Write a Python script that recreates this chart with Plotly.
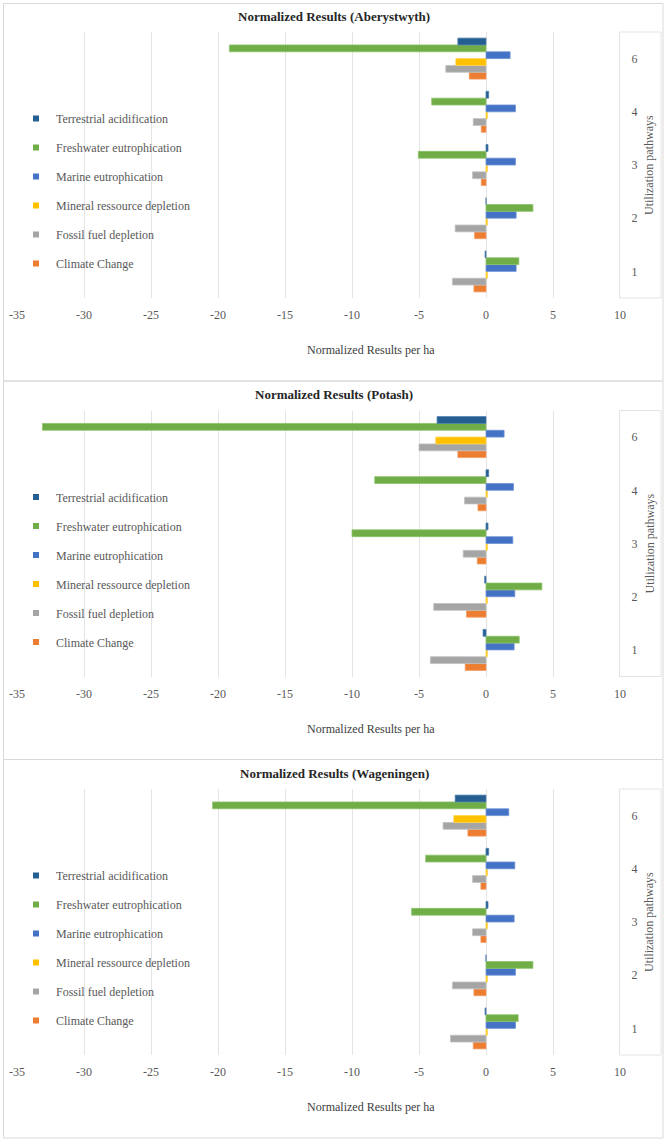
import plotly.graph_objects as go

categories = ["1", "2", "3", "4", "6"]
series_names = ["Terrestrial acidification", "Freshwater eutrophication", "Marine eutrophication",
                "Mineral ressource depletion", "Fossil fuel depletion", "Climate Change"]
panel_titles = ["Normalized Results (Aberystwyth)", "Normalized Results (Potash)",
                "Normalized Results (Wageningen)"]
x_ticks = [-35, -30, -25, -20, -15, -10, -5, 0, 5, 10]

# Aberystwyth (categories 1,2,3,4,6)
aber_ta = [-0.07, 0.0, 0.15, 0.2, -2.1]
aber_fe = [2.45, 3.5, -5.05, -4.05, -19.15]
aber_me = [2.25, 2.25, 2.2, 2.2, 1.8]
aber_mr = [0.1, 0.1, 0.1, 0.1, -2.25]
aber_ff = [-2.5, -2.3, -1.0, -0.95, -3.0]
aber_cc = [-0.9, -0.85, -0.35, -0.35, -1.25]

# Potash
pot_ta = [-0.22, -0.1, 0.15, 0.2, -3.65]
pot_fe = [2.48, 4.17, -10.0, -8.3, -33.1]
pot_me = [2.1, 2.15, 2.0, 2.05, 1.35]
pot_mr = [0.1, 0.1, 0.1, 0.1, -3.75]
pot_ff = [-4.15, -3.9, -1.7, -1.6, -5.0]
pot_cc = [-1.55, -1.45, -0.65, -0.6, -2.1]

# Wageningen
wag_ta = [-0.07, 0.0, 0.15, 0.2, -2.3]
wag_fe = [2.4, 3.5, -5.55, -4.5, -20.4]
wag_me = [2.2, 2.2, 2.1, 2.15, 1.7]
wag_mr = [0.1, 0.1, 0.1, 0.1, -2.4]
wag_ff = [-2.65, -2.5, -1.0, -1.0, -3.2]
wag_cc = [-0.95, -0.9, -0.38, -0.38, -1.35]

panels = [
    [aber_ta, aber_fe, aber_me, aber_mr, aber_ff, aber_cc],
    [pot_ta, pot_fe, pot_me, pot_mr, pot_ff, pot_cc],
    [wag_ta, wag_fe, wag_me, wag_mr, wag_ff, wag_cc],
]

fills = ["#255E91", "#70AD47", "#4472C4", "#FFC000", "#A5A5A5", "#ED7D31"]
edges = ["#4F7FAE", "#8DC26A", "#6F93D6", "#FFD34D", "#C0C0C0", "#F29B62"]

FONT = "Liberation Serif"
W, H = 667, 1140
PANEL_OFF = 378.5
PLOT_TOP, PLOT_BOT = 32, 298
X_L, X_R = 17, 620


def py(px):
    return 1 - px / H


def pxx(px):
    return px / W


fig = go.Figure()
shapes = []
annotations = []
layout_axes = {}

for p, data in enumerate(panels):
    off = p * PANEL_OFF
    sfx = "" if p == 0 else str(p + 1)
    xa, ya = "x" + sfx, "y" + sfx
    leg = "legend" if p == 0 else "legend" + str(p + 1)
    # bars: add bottom-to-top within a group (Climate Change first)
    for i in reversed(range(6)):
        fig.add_trace(go.Bar(
            x=data[i], y=categories, orientation="h", name=series_names[i],
            marker=dict(color=fills[i], line=dict(color=edges[i], width=0.8)),
            xaxis=xa, yaxis=ya, showlegend=False, hoverinfo="x+name",
        ))
    # legend entries
    for i in range(6):
        fig.add_trace(go.Scatter(
            x=[None], y=[None], mode="markers", name=series_names[i],
            marker=dict(symbol="square", size=6, color=fills[i]),
            xaxis=xa, yaxis=ya, legend=leg, legendgroup=f"g{p}_{i}", showlegend=True,
        ))
    top, bot = PLOT_TOP + off, PLOT_BOT + off
    layout_axes["xaxis" + sfx] = dict(
        domain=[pxx(X_L), pxx(X_R)], anchor=ya, range=[-35, 10],
        tickvals=x_ticks, ticktext=[str(v) for v in x_ticks],
        showgrid=True, gridcolor="#E4E4E4", gridwidth=1, zeroline=False, showline=False,
        ticks="outside", ticklen=6, tickcolor="rgba(0,0,0,0)", automargin=False,
        tickfont=dict(family=FONT, size=12, color="#595959"), fixedrange=True,
    )
    layout_axes["yaxis" + sfx] = dict(
        domain=[py(bot), py(top)], anchor=xa, side="right", type="category",
        categoryorder="array", categoryarray=categories,
        showgrid=False, zeroline=False, showline=False, automargin=False,
        ticks="outside", ticklen=8, tickcolor="rgba(0,0,0,0)",
        tickfont=dict(family=FONT, size=12, color="#595959"), fixedrange=True,
    )
    layout_axes[leg] = dict(
        x=pxx(16), xanchor="left", y=py(104 + off), yanchor="top",
        bgcolor="rgba(0,0,0,0)", font=dict(family=FONT, size=12, color="#595959"),
        tracegroupgap=10, itemclick=False, itemdoubleclick=False,
    )
    # panel border
    shapes.append(dict(type="rect", xref="paper", yref="paper",
                       x0=pxx(3.5), x1=pxx(663), y0=py(3.5 + off if p == 0 else 381 + (p - 1) * PANEL_OFF),
                       y1=py(381 + off), line=dict(color="#D9D9D9", width=1), layer="below"))
    # right-side category box
    shapes.append(dict(type="rect", xref="paper", yref="paper",
                       x0=pxx(619.5), x1=pxx(661), y0=py(bot), y1=py(top),
                       line=dict(color="#E3E3E3", width=1), layer="below"))
    annotations.append(dict(text="<b>" + panel_titles[p] + "</b>", xref="paper", yref="paper",
                            x=pxx(334), y=py(16 + off), showarrow=False,
                            xanchor="center", yanchor="middle",
                            font=dict(family=FONT, size=13, color="#262626")))
    annotations.append(dict(text="Normalized Results per ha", xref="paper", yref="paper",
                            x=pxx(371), y=py(350 + off), showarrow=False,
                            xanchor="center", yanchor="middle",
                            font=dict(family=FONT, size=12, color="#404040")))
    annotations.append(dict(text="Utilization pathways", xref="paper", yref="paper",
                            x=pxx(649), y=py(165 + off), showarrow=False, textangle=-90,
                            xanchor="center", yanchor="middle",
                            font=dict(family=FONT, size=12, color="#595959")))

fig.update_layout(
    width=W, height=H, margin=dict(l=0, r=0, t=0, b=0, autoexpand=False),
    paper_bgcolor="white", plot_bgcolor="white",
    barmode="group", bargap=0.23, bargroupgap=0,
    shapes=shapes, annotations=annotations,
    font=dict(family=FONT, size=12, color="#595959"),
    **layout_axes,
)

fig.write_html("out.html", config={"displayModeBar": False},
               post_script="document.body.style.margin='0';document.body.style.overflow='hidden';")
